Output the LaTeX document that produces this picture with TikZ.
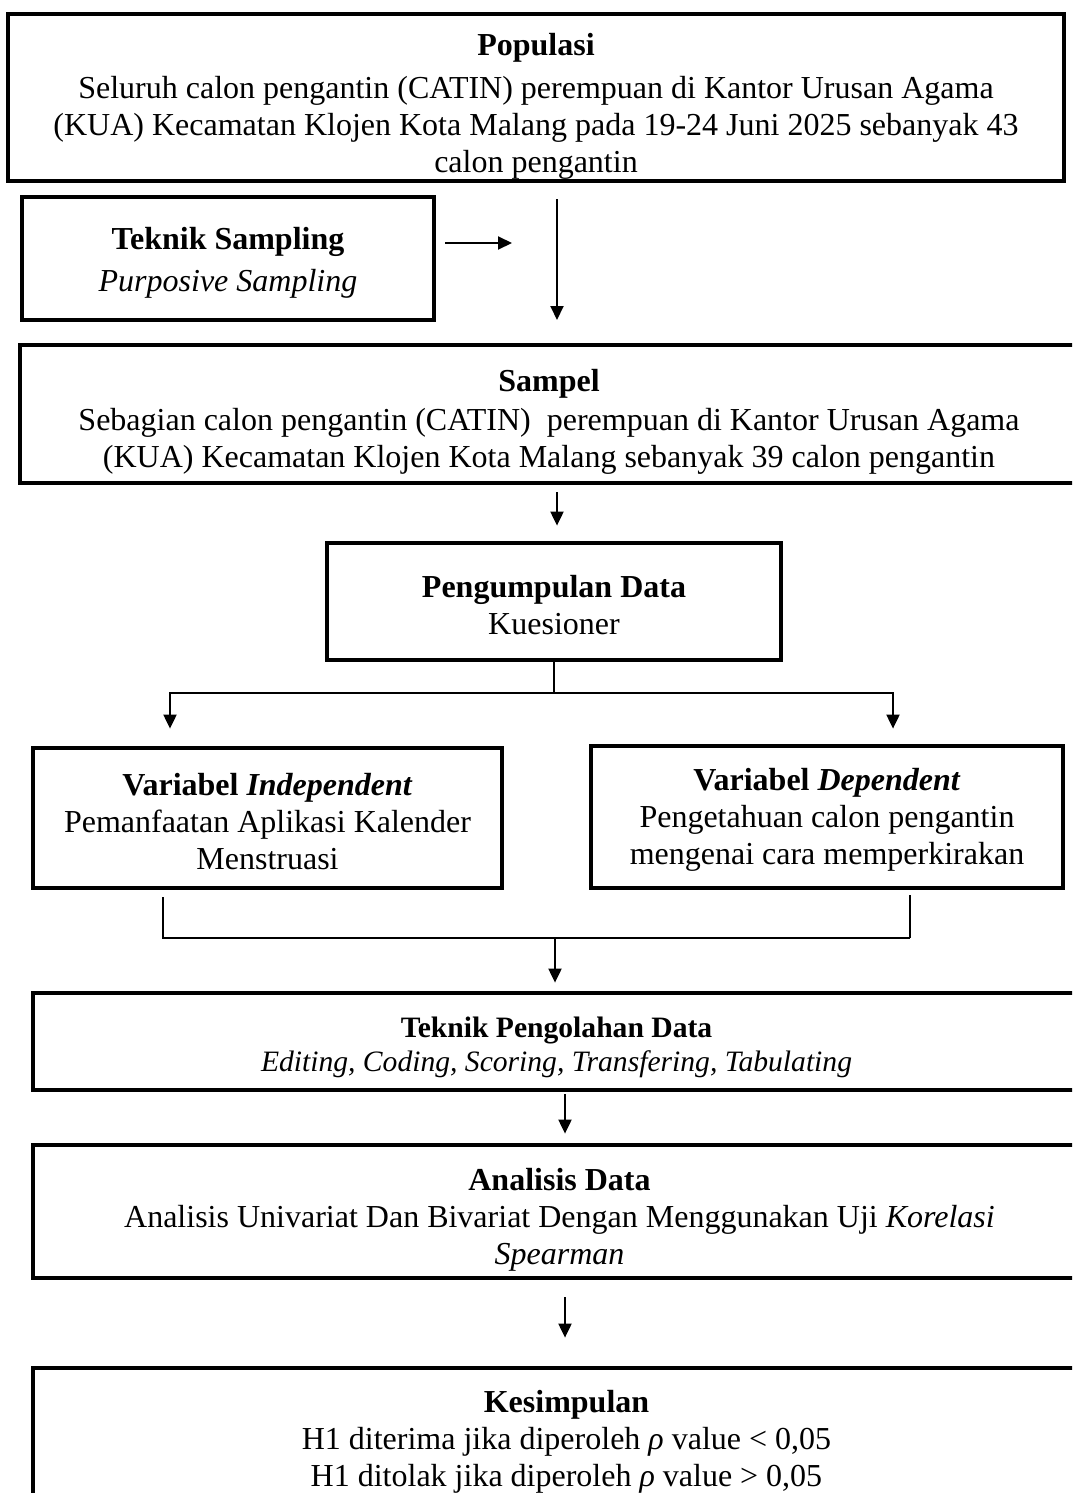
\documentclass[tikz,border=0pt]{standalone}
\usepackage{fontspec}
\setmainfont{Liberation Serif}
\usepackage{xcolor}
\usepackage{tikz}
\usetikzlibrary{arrows.meta}
\newcommand{\topgap}[1]{\rule{0pt}{#1}}

\begin{document}
\begin{tikzpicture}[x=0.5pt,y=-0.5pt,
  box/.style={rectangle,draw,line width=2.4pt,align=center,inner sep=0pt,
    font=\fontsize{16}{18.5}\selectfont},
  smallbox/.style={box,font=\fontsize{14.8}{17}\selectfont},
  arr/.style={line width=1pt,-{Triangle[length=7pt,width=6.5pt]}},
  ln/.style={line width=1pt}]
\useasboundingbox (0,0) rectangle (1072,1493);
\clip (0,0) rectangle (1072,1493);
\path (536,97.5) node(pop) [box,minimum width=528pt,minimum height=83.5pt]
  {\topgap{19.5pt}\textbf{Populasi}\\[3pt]Seluruh calon pengantin (CATIN) perempuan di Kantor Urusan Agama\\(KUA) Kecamatan Klojen Kota Malang pada 19-24 Juni 2025 sebanyak 43\\calon pengantin}
(228,258.5) node(ts) [box,line width=2pt,minimum width=206pt,minimum height=61.5pt]
  {\topgap{15.5pt}\textbf{Teknik Sampling}\\[2.5pt]\textit{Purposive Sampling}}
(549,414) node(samp) [box,minimum width=529pt,minimum height=69pt]
  {\topgap{18.5pt}\textbf{Sampel}\\[1pt]Sebagian calon pengantin (CATIN)\ \ perempuan di Kantor Urusan Agama\\(KUA) Kecamatan Klojen Kota Malang sebanyak 39 calon pengantin}
(554,601.5) node(peng) [box,minimum width=227pt,minimum height=58.5pt]
  {\topgap{14.5pt}\textbf{Pengumpulan Data}\\Kuesioner}
(267.5,818) node(indep) [box,minimum width=234.5pt,minimum height=70pt]
  {\topgap{14.5pt}\textbf{Variabel \textit{Independent}}\\Pemanfaatan Aplikasi Kalender\\Menstruasi}
(827,817) node(dep) [box,minimum width=236pt,minimum height=71pt]
  {\topgap{13.5pt}\textbf{Variabel \textit{Dependent}}\\Pengetahuan calon pengantin\\mengenai cara memperkirakan}
(556.5,1041.5) node(olah) [smallbox,minimum width=523.5pt,minimum height=48.5pt]
  {\topgap{16.5pt}\textbf{Teknik Pengolahan Data}\\\textit{Editing, Coding, Scoring, Transfering, Tabulating}}
(559.5,1211.5) node(anl) [box,minimum width=526.5pt,minimum height=66.5pt]
  {\topgap{19.5pt}\textbf{Analisis Data}\\Analisis Univariat Dan Bivariat Dengan Menggunakan Uji \textit{Korelasi}\\\textit{Spearman}}
(566.5,1437) node(kes) [box,minimum width=533.5pt,minimum height=69pt]
  {\topgap{15.5pt}\textbf{Kesimpulan}\\H1 diterima jika diperoleh \textit{ρ} value < 0,05\\H1 ditolak jika diperoleh \textit{ρ} value > 0,05};
\coordinate (a1) at (557,320);
\coordinate (a2) at (512,243);
\coordinate (sl) at (170,693);
\coordinate (sr) at (893,693);
\coordinate (ml) at (163,938);
\coordinate (mr) at (910,938);
\coordinate (mc) at (555,938);
\coordinate (a3) at (565,1100);
\draw[arr,shorten <=8pt] (pop.south -| a1) -- (a1);
\draw[arr,shorten <=4.5pt] (ts.east |- a2) -- (a2);
\draw[arr,shorten <=3.5pt,shorten >=7.5pt] (samp.south -| a1) -- (peng.north -| a1);
\draw[arr,shorten >=8.5pt] (peng.south) |- (sl) -- (indep.north -| sl);
\draw[arr,shorten >=7.5pt] (peng.south) |- (sr) -- (dep.north -| sr);
\draw[ln,shorten <=3.5pt] (indep.south -| ml) -- (ml) -- (mr);
\draw[ln,shorten <=2.5pt] (dep.south -| mr) -- (mr);
\draw[arr,shorten >=4pt] (mc) -- (olah.north -| mc);
\draw[arr,shorten <=1pt,shorten >=4.5pt] (olah.south -| a3) -- (anl.north -| a3);
\draw[arr,shorten <=8.5pt,shorten >=14pt] (anl.south -| a3) -- (kes.north -| a3);
\end{tikzpicture}
\end{document}
